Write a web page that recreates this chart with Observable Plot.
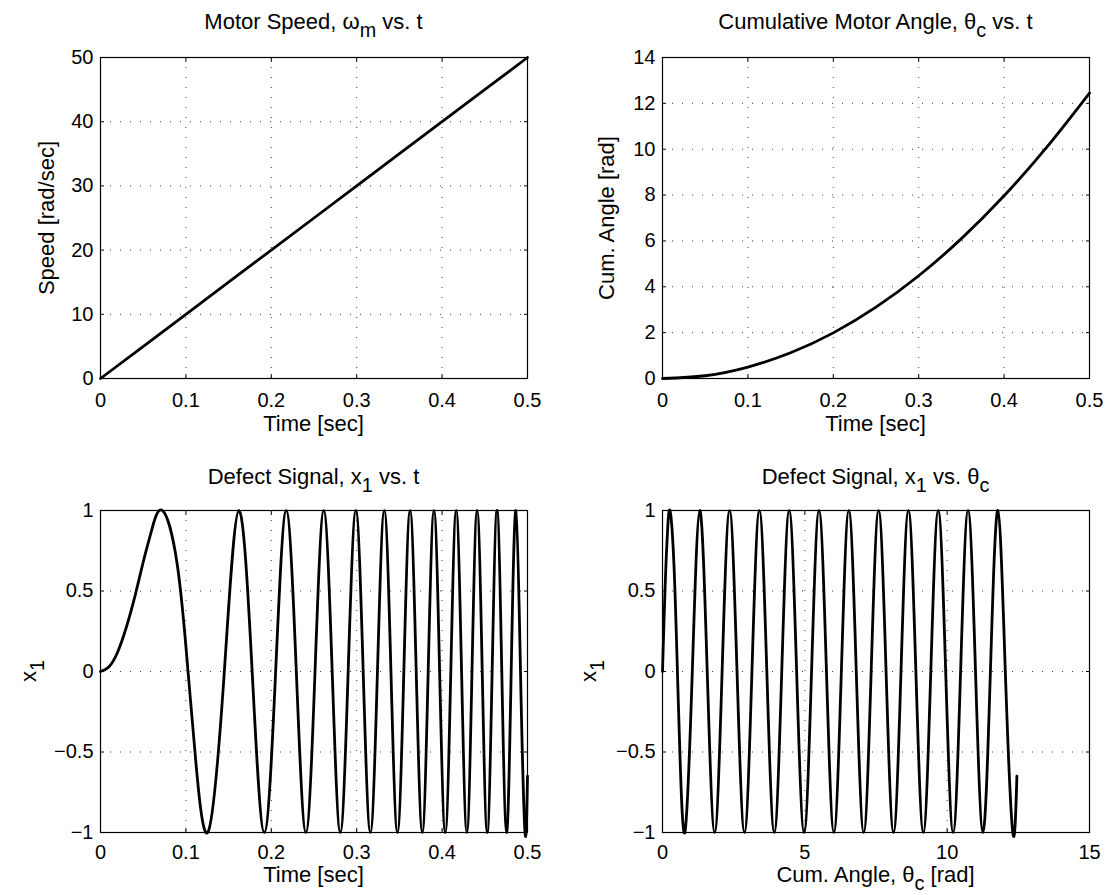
<!DOCTYPE html>
<html>
<head>
<meta charset="utf-8">
<script src="https://cdn.jsdelivr.net/npm/d3@7"></script>
<script src="https://cdn.jsdelivr.net/npm/@observablehq/plot@0.6"></script>
<style>
html, body { margin: 0; padding: 0; background: #fff; }
#fig { position: relative; width: 1108px; height: 895px; background: #fff; overflow: hidden;
       font-family: "Liberation Sans", Arial, Helvetica, sans-serif; color: #000; }
#fig svg { position: absolute; }
.lbl { position: absolute; font-size: 22px; line-height: 22px; white-space: nowrap; }
.sub { position: relative; top: 8px; font-size: 0.9em; }
</style>
</head>
<body>
<div id="fig"></div>
<script>
// ---------------- data ----------------
const speedTime  = [0, 0.1, 0.2, 0.3, 0.4, 0.5];
const speedValue = [0, 10, 20, 30, 40, 50];

const angleTime  = [0, 0.05, 0.1, 0.15, 0.2, 0.25, 0.3, 0.35, 0.4, 0.45, 0.5];
const angleValue = [0, 0.12, 0.50, 1.12, 1.99, 3.11, 4.48, 6.10, 7.97, 10.09, 12.45];

const defectTime = [0, 0.01, 0.02, 0.03, 0.04, 0.05, 0.06, 0.0725, 0.09, 0.1025, 0.11, 0.1256,
  0.1450, 0.1621, 0.1776, 0.1918, 0.2051, 0.2175, 0.2293, 0.2405, 0.2512, 0.2614, 0.2713, 0.2808,
  0.2900, 0.2990, 0.3076, 0.3160, 0.3243, 0.3323, 0.3401, 0.3477, 0.3552, 0.3625, 0.3697, 0.3768,
  0.3837, 0.3905, 0.3971, 0.4037, 0.4102, 0.4165, 0.4228, 0.4290, 0.4350, 0.4410, 0.4470, 0.4528,
  0.4586, 0.4643, 0.4699, 0.4755, 0.4809, 0.4864, 0.4918, 0.4971, 0.5];
const defectAngle = [0, 0.005, 0.02, 0.045, 0.08, 0.125, 0.18, 0.262, 0.403, 0.524, 0.603, 0.785,
  1.047, 1.309, 1.571, 1.833, 2.094, 2.356, 2.618, 2.880, 3.142, 3.403, 3.665, 3.927,
  4.189, 4.451, 4.712, 4.974, 5.236, 5.498, 5.760, 6.021, 6.283, 6.545, 6.807, 7.069,
  7.330, 7.592, 7.854, 8.116, 8.378, 8.639, 8.901, 9.163, 9.425, 9.687, 9.948, 10.210,
  10.472, 10.734, 10.996, 11.257, 11.519, 11.781, 12.043, 12.305, 12.45];
const defectValue = [0, 0.03, 0.12, 0.27, 0.46, 0.68, 0.88, 1, 0.66, 0, -0.46, -1,
  0, 1, 0, -1, 0, 1, 0, -1, 0, 1, 0, -1,
  0, 1, 0, -1, 0, 1, 0, -1, 0, 1, 0, -1,
  0, 1, 0, -1, 0, 1, 0, -1, 0, 1, 0, -1,
  0, 1, 0, -1, 0, 1, 0, -1, -0.65];

const timeTicks     = [0, 0.1, 0.2, 0.3, 0.4, 0.5];
const speedTicks    = [0, 10, 20, 30, 40, 50];
const angleTicks    = [0, 2, 4, 6, 8, 10, 12, 14];
const defectTicks   = [-1, -0.5, 0, 0.5, 1];
const cumAngleTicks = [0, 5, 10, 15];

// text pieces: [main, subscript, rest, subscript2]
const titles  = [["Motor Speed, ω", "m", " vs. t"],
                 ["Cumulative Motor Angle, θ", "c", " vs. t"],
                 ["Defect Signal, x", "1", " vs. t"],
                 ["Defect Signal, x", "1", " vs. θ", "c"]];
const xLabels = [["Time [sec]"], ["Time [sec]"], ["Time [sec]"], ["Cum. Angle, θ", "c", " [rad]"]];
const yLabels = [["Speed [rad/sec]"], ["Cum. Angle [rad]"], ["x", "1"], ["x", "1"]];

// ---------------- tables ----------------
const speedData  = speedTime.map((t, i) => ({t, v: speedValue[i]}));
const angleData  = angleTime.map((t, i) => ({t, v: angleValue[i]}));
const defectData = defectTime.map((t, i) => ({t, a: defectAngle[i], v: defectValue[i]}));

// ---------------- drawing ----------------
const fig = document.getElementById("fig");
const font = '"Liberation Sans", Arial, Helvetica, sans-serif';
const fmt = d3.format("~g");

function panel({left, top, width, height, mL, mR, mT, mB, xDomain, yDomain, xTicks, yTicks, data, xKey, yKey, pad}) {
  const grid = {stroke: "#000", strokeOpacity: 0.75, strokeWidth: 1, strokeDasharray: "1,9"};
  const svg = Plot.plot({
    width, height,
    marginLeft: mL, marginRight: mR, marginTop: mT, marginBottom: mB,
    x: {domain: xDomain},
    y: {domain: yDomain},
    style: {fontFamily: font, fontSize: "20px", color: "#000", background: "transparent", overflow: "visible"},
    marks: [
      Plot.gridX(xTicks, grid),
      Plot.gridY(yTicks, grid),
      Plot.line(data, {x: xKey, y: yKey, curve: "natural", stroke: "#000", strokeWidth: 2.8}),
      Plot.frame({stroke: "#000", strokeWidth: 1.2}),
      Plot.axisX(xTicks, {anchor: "bottom", tickSize: 0, tickPadding: pad, tickFormat: fmt, label: null}),
      Plot.axisX(xTicks, {anchor: "bottom", tickSize: -4, fill: null, label: null}),
      Plot.axisX(xTicks, {anchor: "top", tickSize: -4, fill: null, label: null}),
      Plot.axisY(yTicks, {anchor: "left", tickSize: 0, tickPadding: 7, tickFormat: fmt, label: null}),
      Plot.axisY(yTicks, {anchor: "left", tickSize: -4, fill: null, label: null}),
      Plot.axisY(yTicks, {anchor: "right", tickSize: -4, fill: null, label: null})
    ]
  });
  svg.style.left = left + "px";
  svg.style.top = top + "px";
  fig.appendChild(svg);
}

panel({left: 0, top: 0, width: 554, height: 447, mL: 100, mR: 27, mT: 57, mB: 69, pad: 14,
  xDomain: [0, 0.5], yDomain: [0, 50], xTicks: timeTicks, yTicks: speedTicks,
  data: speedData, xKey: "t", yKey: "v"});
panel({left: 554, top: 0, width: 554, height: 447, mL: 108, mR: 19, mT: 57, mB: 69, pad: 14,
  xDomain: [0, 0.5], yDomain: [0, 14], xTicks: timeTicks, yTicks: angleTicks,
  data: angleData, xKey: "t", yKey: "v"});
panel({left: 0, top: 447, width: 554, height: 448, mL: 100, mR: 27, mT: 63, mB: 63, pad: 12,
  xDomain: [0, 0.5], yDomain: [-1, 1], xTicks: timeTicks, yTicks: defectTicks,
  data: defectData, xKey: "t", yKey: "v"});
panel({left: 554, top: 447, width: 554, height: 448, mL: 108, mR: 19, mT: 63, mB: 63, pad: 12,
  xDomain: [0, 15], yDomain: [-1, 1], xTicks: cumAngleTicks, yTicks: defectTicks,
  data: defectData, xKey: "a", yKey: "v"});

function makeLabel(parts) {
  const div = document.createElement("div");
  div.className = "lbl";
  parts.forEach((p, i) => {
    const span = document.createElement("span");
    if (i % 2 === 1) span.className = "sub";
    span.textContent = p;
    div.appendChild(span);
  });
  fig.appendChild(div);
  return div;
}
function hLabel(parts, cx, baseline) {
  const div = makeLabel(parts);
  div.style.left = cx + "px";
  div.style.top = (baseline - 18.6) + "px";
  div.style.transform = "translateX(-50%)";
}
function vLabel(parts, cx, cy) {
  const div = makeLabel(parts);
  div.style.left = cx + "px";
  div.style.top = cy + "px";
  div.style.transform = "translate(-50%, -50%) rotate(-90deg)";
}

const centersX = [313.5, 875.5, 313.5, 875.5];
const titleBase = [29.8, 29.8, 484.8, 484.8];
const xLabelBase = [432, 432, 882.5, 882.5];
const yLabelX = [47, 607, 29, 589];
const yLabelY = [217.5, 217.5, 671, 671];
for (let i = 0; i < 4; i++) {
  hLabel(titles[i], centersX[i], titleBase[i]);
  hLabel(xLabels[i], centersX[i], xLabelBase[i]);
  vLabel(yLabels[i], yLabelX[i], yLabelY[i]);
}
</script>
</body>
</html>
